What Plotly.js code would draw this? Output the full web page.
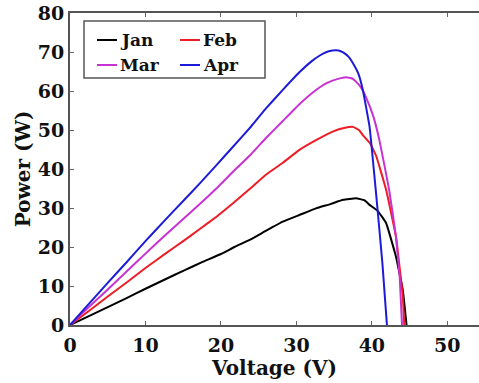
<!DOCTYPE html>
<html>
<head>
<meta charset="utf-8">
<script src="https://cdn.plot.ly/plotly-3.0.1.min.js"></script>
<style>html,body{margin:0;padding:0;background:#fff;}#chart{width:479px;height:383px;}</style>
</head>
<body>
<div id="chart"></div>
<script>
// Series names and colours
const seriesNames = ["Jan", "Feb", "Mar", "Apr"];
const seriesColors = ["#000000", "#ee1c24", "#c832d2", "#1c1cd8"];

// Voltage (V) and Power (W)
const janV = [0, 2.5, 5, 7.5, 10, 12.5, 15, 17.5, 20, 21.8, 23.8, 26, 28.2, 30.4, 32.6, 34.5, 36.2, 37.9, 39.0, 39.7, 40.8, 41.9, 43.2, 44.1, 44.6];
const janP = [0, 2.3, 4.6, 6.9, 9.3, 11.6, 13.9, 16.1, 18.2, 20.0, 21.8, 24.2, 26.5, 28.2, 29.9, 31.0, 32.1, 32.5, 32.0, 30.8, 29.2, 26.1, 17.5, 9.0, 0];

const febV = [0, 2.5, 5, 7.5, 10, 12.5, 15, 17.2, 19.5, 21.6, 24, 26, 28.2, 30.4, 32.6, 34.8, 36.3, 37.5, 38.3, 38.8, 39.8, 40.6, 41.9, 43.2, 44.1, 44.3];
const febP = [0, 3.6, 7.3, 10.9, 14.6, 18.1, 21.5, 24.6, 27.9, 31.2, 35.2, 38.6, 41.6, 44.9, 47.4, 49.6, 50.5, 50.8, 50.0, 48.7, 46.5, 43.2, 34.6, 22.6, 7.3, 0];

const marV = [0, 2.5, 5, 7.5, 10, 12.5, 15, 17.2, 19.5, 21.6, 24, 26, 28.2, 30.4, 32.3, 34, 35.5, 36.6, 37.4, 37.9, 38.6, 39.2, 40.2, 41.0, 42.3, 43.2, 43.7, 44.0];
const marP = [0, 4.6, 9.1, 13.7, 18.3, 22.8, 27.2, 31.0, 35.2, 39.3, 43.8, 48.0, 52.3, 56.6, 59.8, 62.0, 63.1, 63.5, 63.2, 62.4, 60.8, 58.5, 53.5, 47.4, 34.6, 22.6, 12.0, 0];

const aprV = [0, 2.5, 5, 7.5, 10, 12.5, 15, 17.2, 19.5, 21.6, 24, 26, 28.2, 30.4, 32, 33.1, 34.0, 34.8, 35.6, 36.2, 36.9, 37.5, 38.2, 38.8, 39.7, 40.6, 41.4, 42.0];
const aprP = [0, 5.4, 10.8, 16.1, 21.5, 26.7, 31.8, 36.3, 41.2, 45.7, 50.9, 55.6, 60.3, 64.8, 67.6, 69.1, 70.0, 70.4, 70.4, 69.9, 68.8, 67.1, 64.5, 60.3, 50.8, 32.9, 15.8, 0];

const xTicks = [0, 10, 20, 30, 40, 50];
const yTicks = [0, 10, 20, 30, 40, 50, 60, 70, 80];

const xs = [janV, febV, marV, aprV];
const ys = [janP, febP, marP, aprP];

const traces = seriesNames.map((n, i) => ({
  type: "scatter", mode: "lines", name: n,
  x: xs[i], y: ys[i],
  line: {color: seriesColors[i], width: 2, shape: "spline", smoothing: 0.3},
  showlegend: false
}));

const mk = size => ({family: "DejaVu Serif", size: size, color: "#111", weight: "bold"});
const M = {l: 70, r: 0, t: 13, b: 58};
const W = 479, H = 383;
const pw = W - M.l - M.r, ph = H - M.t - M.b;
const px = x => (x - M.l) / pw;
const py = y => (H - M.b - y) / ph;

// manual legend (2 x 2) built from series names/colours
const shapes = [{type: "rect", xref: "paper", yref: "paper",
  x0: px(84), x1: px(265), y0: py(78), y1: py(21),
  line: {color: "#555", width: 1.5}, fillcolor: "rgba(0,0,0,0)"}];
const annotations = [];
const colX = [97, 180], rowY = [40, 65];
seriesNames.forEach((n, i) => {
  const cx = colX[i % 2], cy = rowY[Math.floor(i / 2)];
  shapes.push({type: "line", xref: "paper", yref: "paper",
    x0: px(cx), x1: px(cx + 20), y0: py(cy), y1: py(cy),
    line: {color: seriesColors[i], width: 2}});
  annotations.push({xref: "paper", yref: "paper", x: px(cx + 21), y: py(cy),
    xanchor: "left", yanchor: "middle", showarrow: false, text: n,
    font: mk(17)});
});

const layout = {
  width: W, height: H, margin: M,
  paper_bgcolor: "#fff", plot_bgcolor: "#fff",
  showlegend: false,
  xaxis: {
    range: [0, 54.2], tickvals: xTicks, ticks: "inside", ticklen: 4, tickwidth: 1, tickcolor: "#666",
    showline: true, linecolor: "#555", linewidth: 2, mirror: "ticks",
    showgrid: false, zeroline: false, tickfont: mk(19), ticklabelstandoff: 2,
    title: {text: "Voltage (V)", font: mk(20), standoff: 0}
  },
  yaxis: {
    range: [0, 80], tickvals: yTicks, ticks: "inside", ticklen: 4, tickwidth: 1, tickcolor: "#666",
    showline: true, linecolor: "#555", linewidth: 2, mirror: false,
    showgrid: false, zeroline: false, tickfont: mk(19),
    title: {text: "Power (W)", font: mk(20), standoff: 2}
  },
  shapes: shapes, annotations: annotations
};

Plotly.newPlot("chart", traces, layout, {displayModeBar: false, staticPlot: true});
</script>
</body>
</html>
